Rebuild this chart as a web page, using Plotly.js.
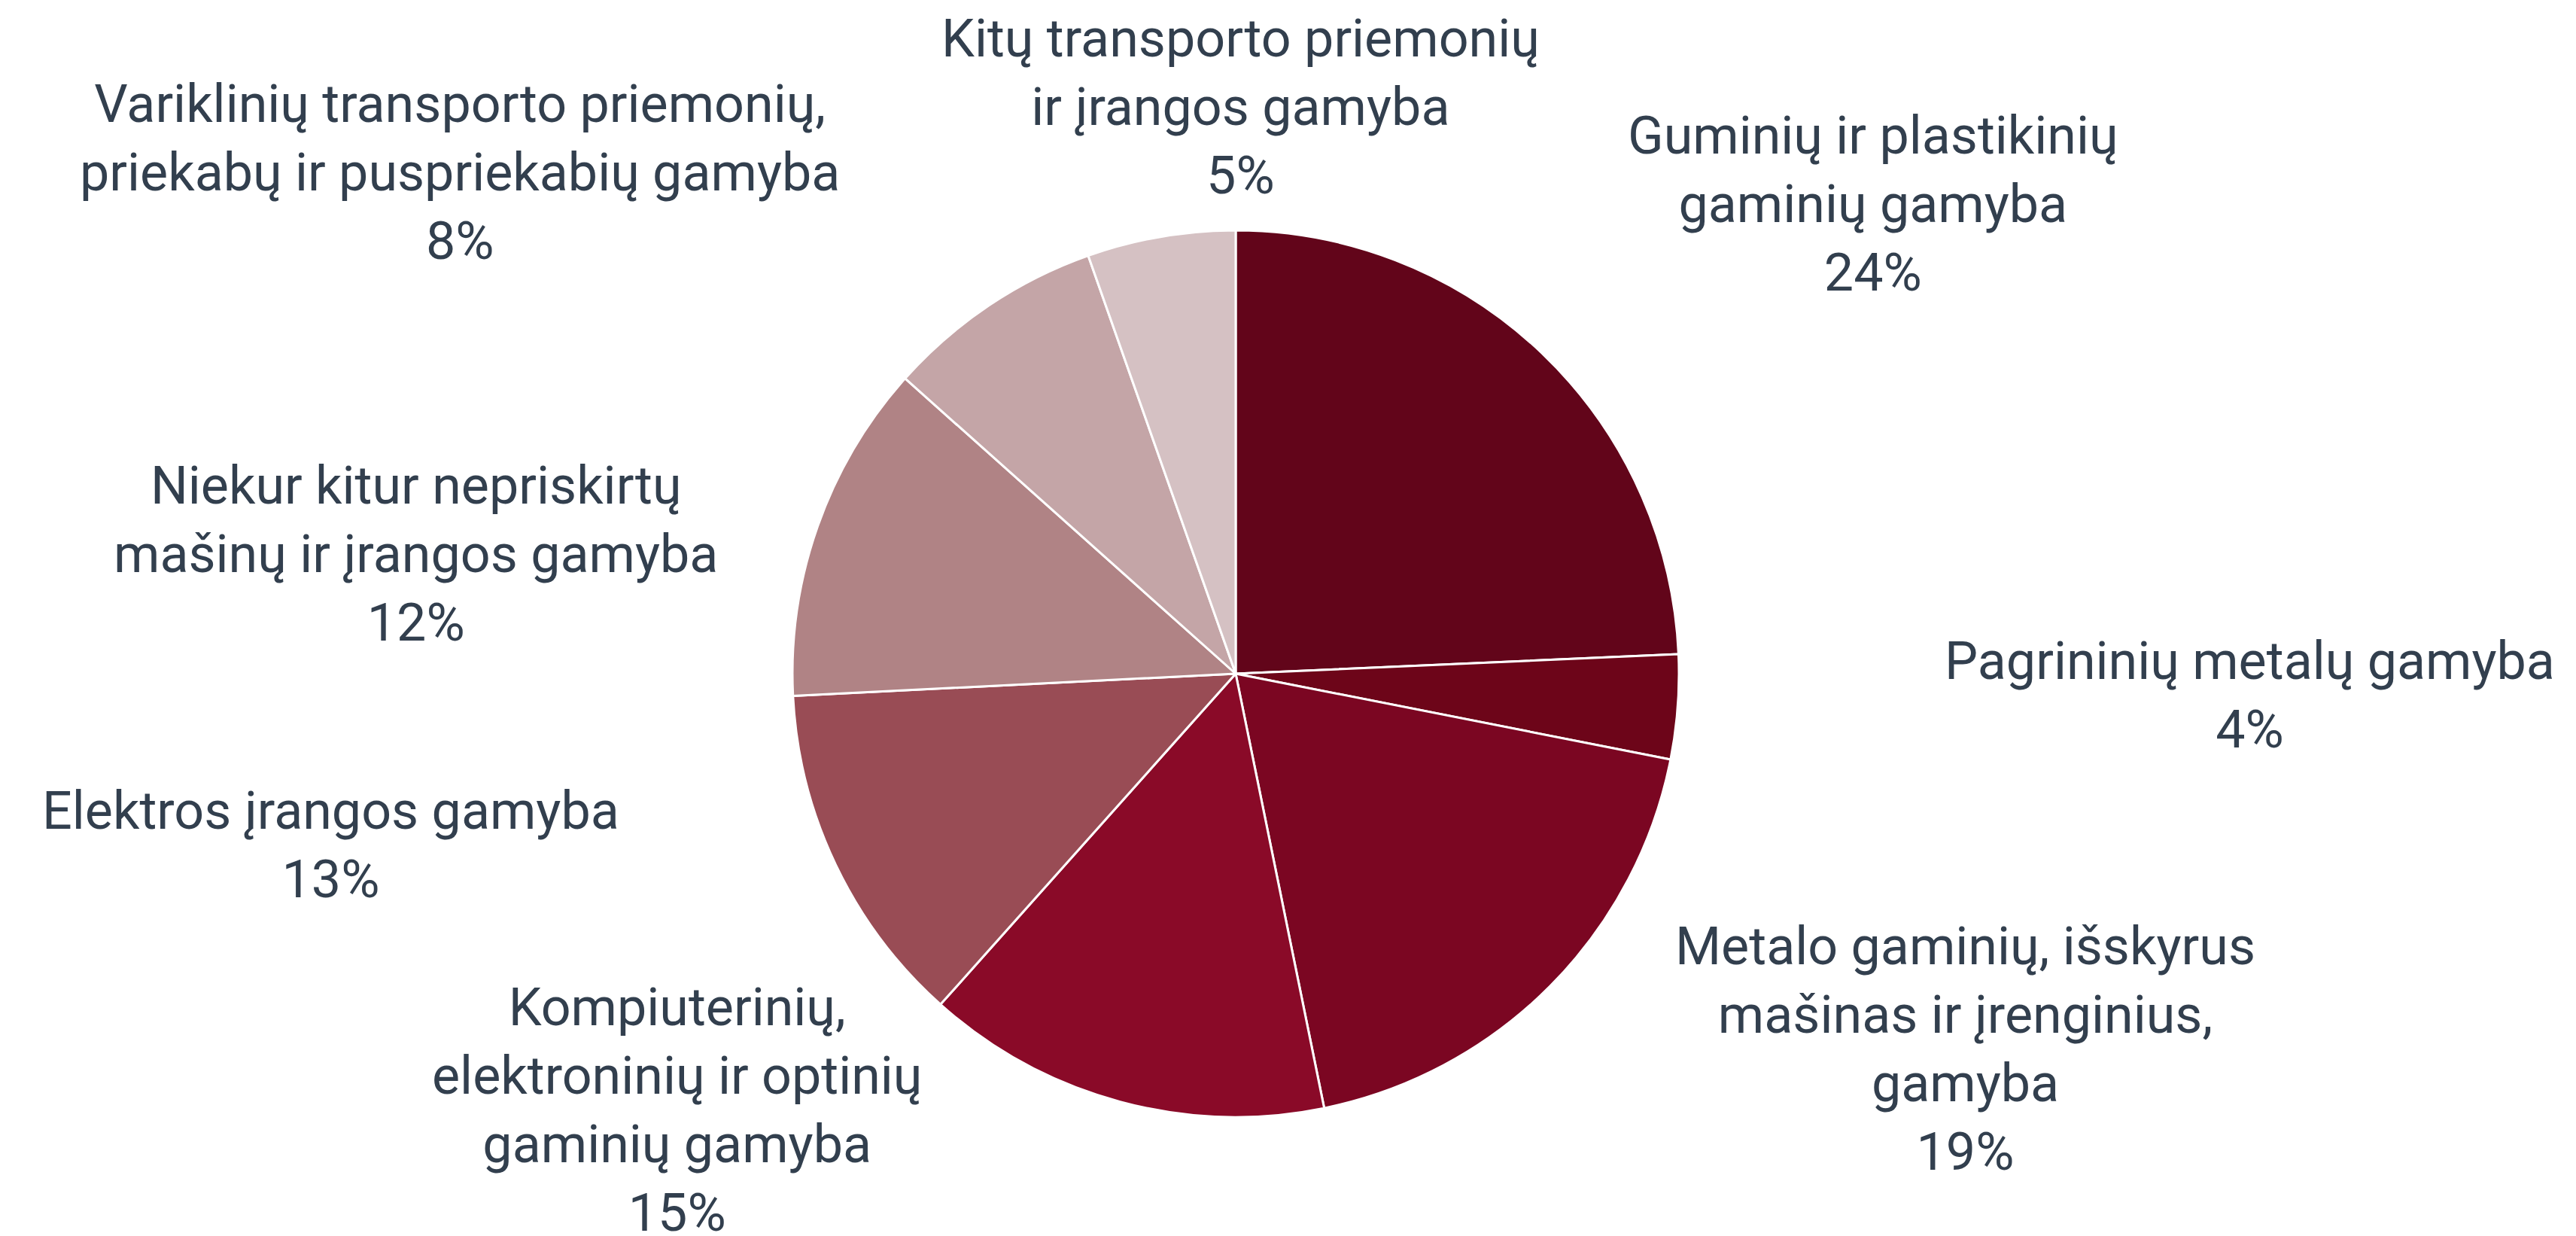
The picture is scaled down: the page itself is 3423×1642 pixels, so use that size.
<!DOCTYPE html>
<html>
<head>
<meta charset="utf-8">
<script src="https://cdn.plot.ly/plotly-3.0.1.min.js"></script>
<style>html,body{margin:0;padding:0;background:#fff;}#chart{width:3423px;height:1642px;}</style>
</head>
<body>
<div id="chart"></div>
<script>
// Data (clockwise from 12 o'clock)
const categories = [
  "Guminių ir plastikinių<br>gaminių gamyba",
  "Pagrininių metalų gamyba",
  "Metalo gaminių, išskyrus<br>mašinas ir įrenginius,<br>gamyba",
  "Kompiuterinių,<br>elektroninių ir optinių<br>gaminių gamyba",
  "Elektros įrangos gamyba",
  "Niekur kitur nepriskirtų<br>mašinų ir įrangos gamyba",
  "Variklinių transporto priemonių,<br>priekabų ir puspriekabių gamyba",
  "Kitų transporto priemonių<br>ir įrangos gamyba"
];
const shares = [24.3, 3.8, 18.7, 14.8, 12.6, 12.4, 8.0, 5.4];
const percentLabels = ["24%", "4%", "19%", "15%", "13%", "12%", "8%", "5%"];

// Styling / label positions (paper coordinates)
const colors = ["#62051a", "#6d0519", "#7b0622", "#8a0a28", "#994c55", "#b08385", "#c4a5a7", "#d5c1c3"];
const labelPos = [
  [2489, 271], [2989, 923], [2611, 1393], [899, 1474],
  [439, 1122], [552, 736], [611, 229], [1648, 142]
];
const W = 3423, H = 1642;
const cx = 1642, cy = 895, R = 589;

const trace = {
  type: 'pie',
  values: shares,
  labels: categories,
  sort: false,
  direction: 'clockwise',
  rotation: 0,
  textinfo: 'none',
  hoverinfo: 'label+percent',
  marker: { colors: colors, line: { color: '#ffffff', width: 3 } },
  domain: {
    x: [(cx - R) / W, (cx + R) / W],
    y: [(H - cy - R) / H, (H - cy + R) / H]
  },
  showlegend: false
};

const annotations = categories.map((c, i) => ({
  xref: 'paper', yref: 'paper',
  x: labelPos[i][0] / W, y: 1 - labelPos[i][1] / H,
  xanchor: 'center', yanchor: 'middle',
  text: c + '<br>' + percentLabels[i],
  showarrow: false,
  align: 'center',
  font: { family: 'Roboto, "Open Sans", sans-serif', size: 70, color: '#323f4e' }
}));

const layout = {
  width: W, height: H,
  margin: { l: 0, r: 0, t: 0, b: 0 },
  paper_bgcolor: '#ffffff',
  plot_bgcolor: '#ffffff',
  annotations: annotations
};

Plotly.newPlot('chart', [trace], layout, { displayModeBar: false, staticPlot: true });
</script>
</body>
</html>
